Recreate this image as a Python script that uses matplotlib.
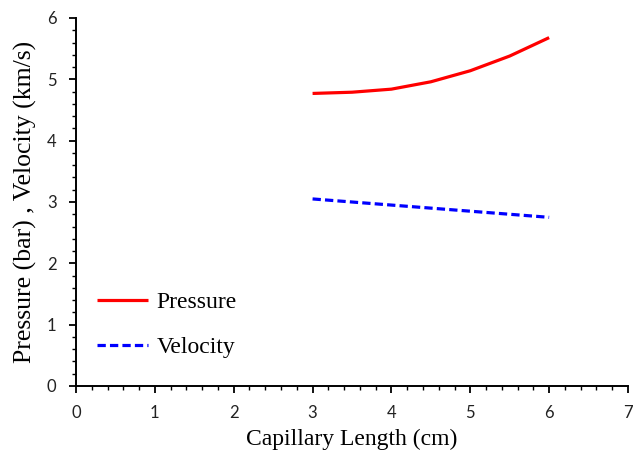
import numpy as np
import matplotlib.pyplot as plt
from matplotlib.ticker import MultipleLocator

# values
length = [3.0, 3.5, 4.0, 4.5, 5.0, 5.5, 6.0]
pressure = [4.77, 4.79, 4.84, 4.96, 5.14, 5.38, 5.68]
velocity = [3.05, 3.00, 2.95, 2.90, 2.85, 2.80, 2.75]

serif = 'Liberation Serif'
tickfont = 'Lato'

fig = plt.figure(figsize=(6.38, 4.53), dpi=100)
ax = fig.add_axes([76 / 638, 67 / 453, 552 / 638, 368 / 453])

ax.plot(length, pressure, color='#ff0000', lw=2.3, solid_capstyle='butt', label='Pressure')
ax.plot(length, velocity, color='#0000ff', lw=2.3, ls=(0, (2.6, 1.3)), label='Velocity')

ax.set_xlim(0, 7)
ax.set_ylim(0, 6)
ax.xaxis.set_major_locator(MultipleLocator(1))
ax.xaxis.set_minor_locator(MultipleLocator(0.2))
ax.yaxis.set_major_locator(MultipleLocator(1))
ax.yaxis.set_minor_locator(MultipleLocator(0.2))

for s in ['top', 'right']:
    ax.spines[s].set_visible(False)
for s in ['left', 'bottom']:
    ax.spines[s].set_linewidth(1.4)

ax.tick_params(which='major', direction='out', length=5, width=1.3, labelsize=12, pad=9)
ax.tick_params(which='minor', direction='out', length=3, width=1.0)
for lab in ax.get_xticklabels() + ax.get_yticklabels():
    lab.set_fontfamily(tickfont)
    lab.set_color('#222222')

ax.set_xlabel('Capillary Length (cm)', fontfamily=serif, fontsize=17, labelpad=5)
ax.set_ylabel('Pressure (bar) , Velocity (km/s)', fontfamily=serif, fontsize=18.5, labelpad=7)

leg = ax.legend(loc='lower left', bbox_to_anchor=(0.0, 0.018), frameon=False,
                prop={'family': serif, 'size': 17}, handlelength=2.15,
                handletextpad=0.35, labelspacing=1.0)

fig.savefig('out.png', dpi=100)
